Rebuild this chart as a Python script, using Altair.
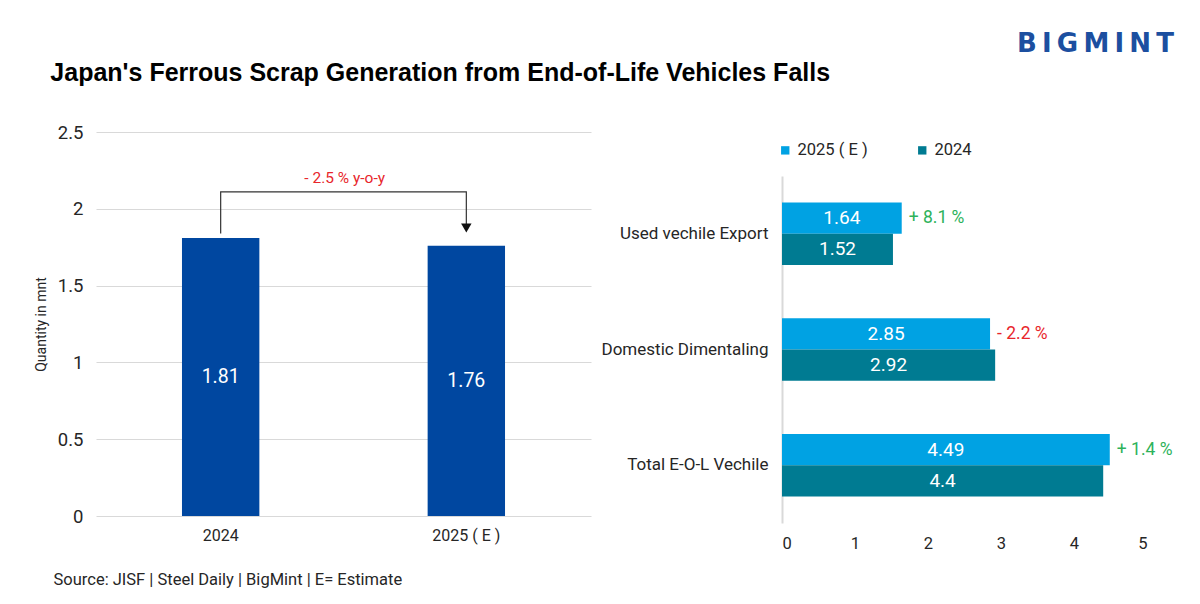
import altair as alt
import pandas as pd

# ---------------- data ----------------
years = ["2024", "2025 ( E )"]
totals = [1.81, 1.76]
yoy_text = "- 2.5 % y-o-y"

# bracket connecting the two bars (data units)
bracket_x = ["2024", "2024", "2025 ( E )", "2025 ( E )"]
bracket_y = [1.84, 2.11, 2.11, 1.90]
arrow_y = 1.875
yoy_y = 2.20

categories = ["Used vechile Export", "Domestic Dimentaling", "Total E-O-L Vechile"]
series = ["2025 ( E )", "2024"]
vals_2025 = [1.64, 2.85, 4.49]
vals_2024 = [1.52, 2.92, 4.4]
changes = ["+ 8.1 %", "- 2.2 %", "+ 1.4 %"]

FONT = "Roboto"
TITLE_FONT = "Liberation Sans"
BLUE = "#0047A0"
LIGHT = "#00A2E3"
TEAL = "#007B92"
GREEN = "#2DB25A"
RED = "#E8262B"
GRID = "#D9D9D9"
TXT = "#262626"

# ---------------- left chart ----------------
left_df = pd.DataFrame({"year": years, "value": totals})
left_df["half"] = left_df["value"] / 2
left_df["label"] = [f"{v:g}" for v in totals]

br_df = pd.DataFrame({"year": bracket_x, "y": bracket_y, "o": list(range(len(bracket_x)))})
arrow_df = pd.DataFrame({"year": [years[1]], "y": [arrow_y]})
yoy_df = pd.DataFrame({"year": [years[0]], "y": [yoy_y], "t": [yoy_text]})

xL = alt.X(
    "year:N",
    sort=years,
    scale=alt.Scale(domain=years, paddingInner=0.685, paddingOuter=0.35),
    axis=alt.Axis(
        title="Source: JISF | Steel Daily | BigMint | E= Estimate",
        titleX=-43, titleY=63, titleAlign="left", titleBaseline="middle",
        titleFontSize=16.5, titleFontWeight="normal", titleFont=FONT, titleColor=TXT,
        labelAngle=0, labelFontSize=16, labelFont=FONT, labelColor=TXT,
        labelPadding=11, ticks=False, domain=False,
    ),
)
yScaleL = alt.Scale(domain=[0, 2.5])

bars = alt.Chart(left_df).mark_bar(color=BLUE).encode(
    x=xL,
    y=alt.Y(
        "value:Q",
        scale=yScaleL,
        axis=alt.Axis(
            values=[0, 0.5, 1, 1.5, 2, 2.5], format=".1~f",
            title="Quantity in mnt", titleFontSize=14, titleFontWeight="normal",
            titleFont=FONT, titleColor=TXT, titlePadding=9,
            labelFontSize=18.5, labelFont=FONT, labelColor=TXT, labelPadding=13,
            ticks=False, domain=False, grid=True, gridColor=GRID, gridWidth=1.2,
        ),
    ),
)
bar_labels = alt.Chart(left_df).mark_text(color="white", fontSize=19.5, font=FONT).encode(
    x=alt.X("year:N", sort=years), y=alt.Y("half:Q", scale=yScaleL), text="label:N"
)
bracket = alt.Chart(br_df).mark_line(color="#333333", strokeWidth=1.2).encode(
    x=alt.X("year:N", sort=years), y=alt.Y("y:Q", scale=yScaleL), order="o:Q"
)
arrow = alt.Chart(arrow_df).mark_point(
    shape="triangle-down", filled=True, color="#111111", size=110, opacity=1
).encode(x=alt.X("year:N", sort=years), y=alt.Y("y:Q", scale=yScaleL))
yoy = alt.Chart(yoy_df).mark_text(color=RED, fontSize=15.5, font=FONT, dx=124).encode(
    x=alt.X("year:N", sort=years), y=alt.Y("y:Q", scale=yScaleL), text="t:N"
)

left = alt.layer(bars, bar_labels, bracket, arrow, yoy).properties(
    width=495,
    height=384,
    title=alt.Title(
        "Japan's Ferrous Scrap Generation from End-of-Life Vehicles Falls",
        anchor="start", frame="bounds", dx=16, offset=37.5,
        fontSize=25, font=TITLE_FONT, fontWeight="bold", color="#000000",
    ),
)

# ---------------- right chart ----------------
rows = []
for c, a, b in zip(categories, vals_2025, vals_2024):
    rows.append({"cat": c, "series": series[0], "value": a})
    rows.append({"cat": c, "series": series[1], "value": b})
right_df = pd.DataFrame(rows)
right_df["half"] = right_df["value"] / 2
right_df["label"] = [f"{v:g}" for v in right_df["value"]]

chg_df = pd.DataFrame({"cat": categories, "series": [series[0]] * 3,
                       "value": vals_2025, "t": changes})
chg_df["sign"] = ["pos" if t.startswith("+") else "neg" for t in changes]

yR = alt.Y(
    "cat:N", sort=categories,
    scale=alt.Scale(domain=categories, range=[44, 391], paddingInner=0.46, paddingOuter=0.23),
    axis=alt.Axis(
        title=None, ticks=False, labelFontSize=17, labelFont=FONT, labelColor=TXT,
        labelPadding=14, domainColor=GRID, domainWidth=2, labelLimit=300,
    ),
)
yOffR = alt.YOffset("series:N", sort=series,
                    scale=alt.Scale(domain=series, paddingInner=0, paddingOuter=0))
xScaleR = alt.Scale(domain=[0, 5])

rbars = alt.Chart(right_df).mark_bar().encode(
    x=alt.X(
        "value:Q", scale=xScaleR,
        axis=alt.Axis(values=[0, 1, 2, 3, 4, 5], format="d", grid=False, ticks=False,
                      domain=False, labelFontSize=16.5, labelFont=FONT, labelColor=TXT,
                      labelPadding=12, title=None),
    ),
    y=yR,
    yOffset=yOffR,
    color=alt.Color(
        "series:N", sort=series,
        scale=alt.Scale(domain=series, range=[LIGHT, TEAL]),
        legend=alt.Legend(
            orient="none", legendX=-5, legendY=10, direction="horizontal", title=None,
            symbolType="square", symbolSize=70, symbolStrokeWidth=0,
            labelFontSize=16.5, labelFont=FONT, labelColor=TXT, columnPadding=46,
        ),
    ),
)
rlabels = alt.Chart(right_df).mark_text(color="white", fontSize=19, font=FONT).encode(
    x=alt.X("half:Q", scale=xScaleR), y=alt.Y("cat:N", sort=categories), yOffset=yOffR,
    text="label:N",
)
rchg = alt.Chart(chg_df).mark_text(align="left", dx=7, fontSize=17.5, font=FONT).encode(
    x=alt.X("value:Q", scale=xScaleR), y=alt.Y("cat:N", sort=categories), yOffset=yOffR,
    text="t:N",
    color=alt.Color("sign:N", scale=alt.Scale(domain=["pos", "neg"], range=[GREEN, RED]),
                    legend=None),
)

right = alt.layer(rbars, rlabels, rchg).resolve_scale(color="independent").properties(
    width=365,
    height=391,
    title=alt.Title(
        "B\u2009I\u2009G\u2009M\u2009I\u2009N\u2009T", anchor="end", frame="group", dx=27, offset=75,
        fontSize=26, font="DejaVu Sans", fontWeight="bold", color="#1C4FA0",
    ),
)

chart = alt.hconcat(left, right, spacing=191, bounds="flush").properties(
    padding={"left": 26, "top": 23, "right": 10, "bottom": 10}
).configure_view(stroke=None)

chart.save("out.html", embed_options={"renderer": "svg", "actions": False})
